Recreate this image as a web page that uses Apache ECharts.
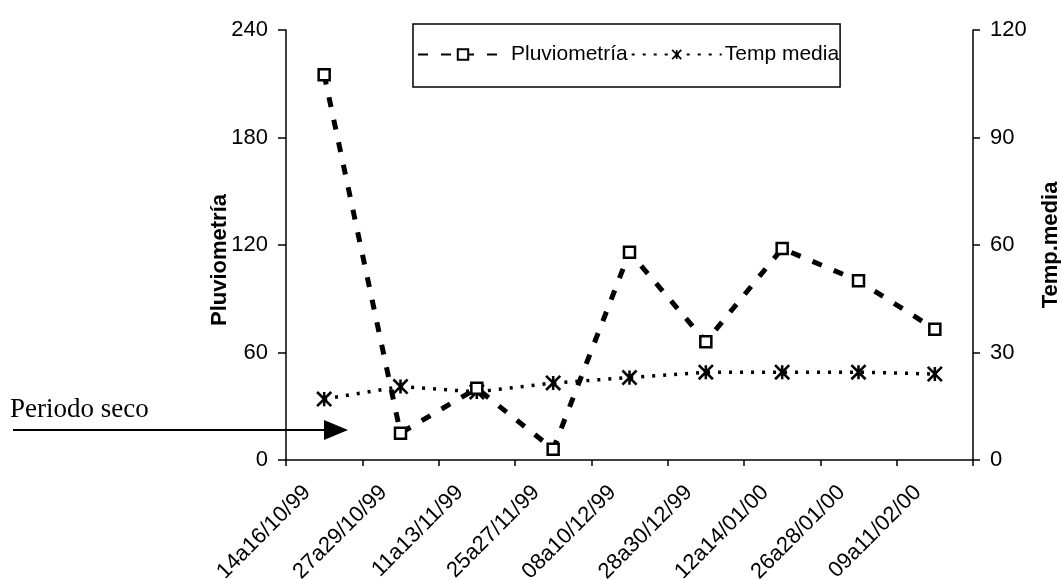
<!DOCTYPE html>
<html>
<head>
<meta charset="utf-8">
<script src="https://cdn.jsdelivr.net/npm/echarts@6/dist/echarts.min.js"></script>
<style>
  html, body { margin: 0; padding: 0; background: #fff; }
  #chart { width: 1061px; height: 580px; }
</style>
</head>
<body>
<div id="chart"></div>
<script>
  // 数据
  const periodos = ['14a16/10/99', '27a29/10/99', '11a13/11/99', '25a27/11/99', '08a10/12/99',
    '28a30/12/99', '12a14/01/00', '26a28/01/00', '09a11/02/00']
  const pluviometria = [215, 15, 40, 6, 116, 66, 118, 100, 73]
  const tempMedia = [17, 20.5, 19, 21.5, 23, 24.5, 24.5, 24.5, 24]
  const ticksPluvio = [0, 240, 60]
  const ticksTemp = [0, 120, 30]

  // 星形标记（Excel 的 * 标记）
  const starPath = 'path://M-1.8,-10 L1.8,-10 L1.8,10 L-1.8,10 Z ' +
    'M-11.3,-8.7 L-8.7,-11.3 L11.3,8.7 L8.7,11.3 Z ' +
    'M8.7,-11.3 L11.3,-8.7 L-8.7,11.3 L-11.3,8.7 Z'

  const font = 'Liberation Sans, Arial, sans-serif'
  const black = '#000'

  const mChart = echarts.init(document.getElementById('chart'))

  const options = {
    animation: false,
    backgroundColor: '#fff',
    // 固定绘图区，不随标签自动收缩
    grid: { left: 286, right: 88, top: 30, bottom: 120, outerBoundsMode: 'none', containLabel: false },
    // 图例
    legend: {
      left: 413,
      top: 24,
      padding: [20, 1, 22, 4],
      borderColor: black,
      borderWidth: 1.5,
      borderRadius: 0,
      itemWidth: 90,
      itemHeight: 13,
      itemGap: 3,
      textStyle: { fontFamily: font, fontSize: 21, color: black, padding: [0, 0, 0, -2] },
      data: ['Pluviometría', 'Temp media']
    },
    xAxis: {
      type: 'category',
      data: periodos,
      boundaryGap: true,
      axisLine: { lineStyle: { color: black, width: 1.5 } },
      axisTick: { show: true, length: 6, lineStyle: { color: black, width: 1.5 } },
      axisLabel: {
        rotate: 45,
        margin: 12,
        padding: [0, 24, 0, 0],
        fontFamily: font,
        fontSize: 22,
        color: black,
        interval: 0
      },
      splitLine: { show: false }
    },
    yAxis: [
      {
        type: 'value',
        min: ticksPluvio[0],
        max: ticksPluvio[1],
        interval: ticksPluvio[2],
        name: 'Pluviometría',
        nameLocation: 'middle',
        nameRotate: 90,
        nameGap: 55,
        nameMoveOverlap: false,
        nameTextStyle: { fontFamily: font, fontSize: 22, fontWeight: 'bold', color: black, padding: [0, 30, 0, 0] },
        axisLine: { show: true, lineStyle: { color: black, width: 1.5 } },
        axisTick: { show: true, length: 8, lineStyle: { color: black, width: 1.5 } },
        axisLabel: { fontFamily: font, fontSize: 22, color: black, margin: 18 },
        splitLine: { show: false }
      },
      {
        type: 'value',
        position: 'right',
        min: ticksTemp[0],
        max: ticksTemp[1],
        interval: ticksTemp[2],
        name: 'Temp.media',
        nameLocation: 'middle',
        nameRotate: 90,
        nameGap: 67,
        nameMoveOverlap: false,
        nameTextStyle: { fontFamily: font, fontSize: 22, fontWeight: 'bold', color: black },
        axisLine: { show: true, lineStyle: { color: black, width: 1.5 } },
        axisTick: { show: true, length: 7, lineStyle: { color: black, width: 1.5 } },
        axisLabel: { fontFamily: font, fontSize: 22, color: black, margin: 17 },
        splitLine: { show: false }
      }
    ],
    series: [
      {
        name: 'Pluviometría',
        type: 'line',
        yAxisIndex: 0,
        data: pluviometria,
        symbol: 'rect',
        symbolSize: 11,
        itemStyle: { color: '#fff', borderColor: black, borderWidth: 2.5 },
        lineStyle: { color: black, width: 5, type: [10, 13] },
        z: 3
      },
      {
        name: 'Temp media',
        type: 'line',
        yAxisIndex: 1,
        data: tempMedia,
        symbol: starPath,
        symbolSize: 16,
        itemStyle: { color: black, borderWidth: 0 },
        lineStyle: { color: black, width: 3.5, type: [3, 8] },
        z: 2
      }
    ],
    // 注释：Periodo seco 与箭头
    graphic: [
      {
        type: 'text',
        left: 10,
        top: 396,
        style: { text: 'Periodo seco', font: '27px "Liberation Serif", "Times New Roman", serif', fill: black }
      },
      {
        type: 'line',
        shape: { x1: 13, y1: 430, x2: 328, y2: 430 },
        style: { stroke: black, lineWidth: 2 }
      },
      {
        type: 'polygon',
        shape: { points: [[324, 420], [348, 430], [324, 440]] },
        style: { fill: black }
      }
    ]
  }

  mChart.setOption(options)
</script>
</body>
</html>
